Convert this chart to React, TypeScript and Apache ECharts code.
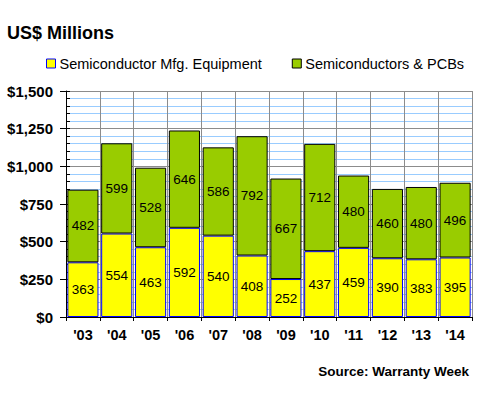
import React, { useEffect, useRef } from "react";
import * as echarts from "echarts";

const years = ["'03", "'04", "'05", "'06", "'07", "'08", "'09", "'10", "'11", "'12", "'13", "'14"];
const mfgEquipment = [363, 554, 463, 592, 540, 408, 252, 437, 459, 390, 383, 395];
const semisPcbs = [482, 599, 528, 646, 586, 792, 667, 712, 480, 460, 480, 496];
const seriesNames = ["Semiconductor Mfg. Equipment", "Semiconductors & PCBs"];
const titleText = "US$ Millions";
const sourceText = "Source: Warranty Week";

const FONT = "'Liberation Sans', Arial, sans-serif";

export default function App() {
  const ref = useRef<HTMLDivElement>(null);
  useEffect(() => {
    if (!ref.current) return;
    const chart = echarts.init(ref.current, undefined, { renderer: "svg" });
    chart.setOption({
      animation: false,
      backgroundColor: "#ffffff",
      textStyle: { fontFamily: FONT },
      grid: { left: 66, right: 8, top: 91, bottom: 83, containLabel: false },
      legend: {
        left: 46,
        top: 56,
        padding: 0,
        icon: "rect",
        itemWidth: 9,
        itemHeight: 9,
        itemGap: 30,
        itemStyle: { borderWidth: 1 },
        textStyle: { fontSize: 14.5, color: "#000", fontFamily: FONT, padding: [0, 0, 0, -1] },
        data: seriesNames,
      },
      graphic: [
        {
          type: "text",
          left: 7,
          top: 24,
          style: { text: titleText, font: `bold 18px ${FONT}`, fill: "#000" },
        },
        {
          type: "text",
          right: 11,
          top: 364,
          style: { text: sourceText, font: `bold 13.5px ${FONT}`, fill: "#000" },
        },
      ],
      xAxis: {
        type: "category",
        data: years,
        boundaryGap: true,
        axisLine: { show: true, lineStyle: { color: "#000", width: 1 } },
        axisTick: { show: true, length: 4, lineStyle: { color: "#000" } },
        axisLabel: { color: "#000", fontWeight: "bold", fontSize: 14.5, margin: 10, fontFamily: FONT },
        splitLine: { show: true, lineStyle: { color: "#8c8c8c", width: 1 } },
      },
      yAxis: [
        {
          type: "value",
          min: 0,
          max: 1500,
          interval: 250,
          axisLine: { show: true, lineStyle: { color: "#000", width: 1 } },
          axisTick: { show: true, length: 6, lineStyle: { color: "#000" } },
          axisLabel: {
            color: "#000",
            fontWeight: "bold",
            fontSize: 15,
            margin: 13,
            fontFamily: FONT,
            formatter: (v: number) => "$" + v.toLocaleString("en-US"),
          },
          splitLine: { show: true, lineStyle: { color: "#8c8c8c", width: 1 } },
          minorTick: { show: false, splitNumber: 5 },
          minorSplitLine: { show: true, lineStyle: { color: "#99ccff", width: 1 } },
        },
        {
          type: "value",
          min: 0,
          max: 1500,
          interval: 50,
          position: "left",
          axisLine: { show: false },
          axisTick: { show: true, inside: true, length: 4, lineStyle: { color: "#000" } },
          axisLabel: { show: false },
          splitLine: { show: false },
        },
      ],
      series: [
        {
          name: seriesNames[0],
          type: "bar",
          stack: "total",
          data: mfgEquipment,
          barCategoryGap: "8%",
          itemStyle: { color: "#ffff00", borderColor: "#0000ff", borderWidth: 1 },
          label: {
            show: true,
            position: "inside",
            color: "#000",
            fontSize: 13.5,
            fontFamily: FONT,
          },
        },
        {
          name: seriesNames[1],
          type: "bar",
          stack: "total",
          data: semisPcbs,
          barCategoryGap: "8%",
          itemStyle: { color: "#99cc00", borderColor: "#000000", borderWidth: 1 },
          label: {
            show: true,
            position: "inside",
            color: "#000",
            fontSize: 13.5,
            fontFamily: FONT,
          },
        },
      ],
    });
    return () => chart.dispose();
  }, []);
  return <div ref={ref} style={{ position: "fixed", left: 0, top: 0, width: 480, height: 400 }} />;
}
